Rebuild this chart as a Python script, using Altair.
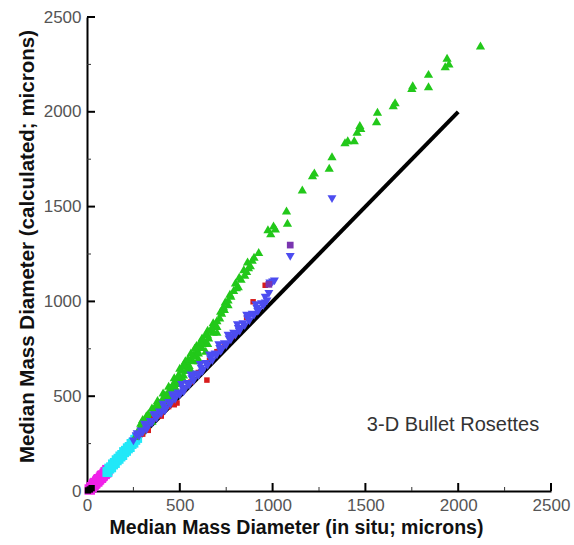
import altair as alt
import pandas as pd

# Median mass diameter, in situ (x) vs calculated (y), microns
green_x = [260, 275, 285, 295, 300, 310, 315, 325, 330, 340, 345, 355, 360, 370, 375, 385, 390, 400,
           405, 415, 420, 430, 435, 445, 450, 460, 465, 475, 480, 490, 495, 505, 510, 520, 525, 535,
           540, 550, 560, 570, 575, 585, 595, 600, 610, 620, 630, 640, 650, 655, 665, 680, 690, 700,
           715, 725, 740, 745, 760, 775, 790, 800, 815, 830, 845, 860, 865, 880, 900, 925, 975, 990,
           1005, 1015, 1075, 1080, 1160, 1215, 1225, 1305, 1320, 1390, 1405, 1440, 1455, 1470, 1475,
           1560, 1565, 1650, 1660, 1750, 1755, 1840, 1840, 1930, 1940, 1950, 2120,
           300, 320, 350, 380, 410, 440, 470, 500, 530, 560, 590, 620, 650, 680, 720, 760, 820, 870,
           350, 400, 450, 500, 550, 600, 650, 700,
           290, 330, 370, 420, 460, 490, 520, 545, 580, 610, 640, 670, 700, 735, 770, 805, 850, 890,
           280, 320, 360, 400, 440, 480, 520, 560, 600, 640]
green_y = [290, 310, 330, 320, 350, 345, 370, 365, 390, 385, 400, 410, 425, 420, 445, 440, 465, 460,
           485, 475, 500, 495, 520, 510, 545, 530, 565, 550, 590, 575, 615, 600, 640, 615, 660, 640,
           680, 665, 700, 690, 720, 715, 745, 730, 770, 760, 795, 785, 825, 810, 850, 840, 880, 870,
           915, 940, 960, 1000, 985, 1030, 1060, 1100, 1080, 1120, 1170, 1160, 1210, 1190, 1235, 1260,
           1380, 1360, 1400, 1385, 1480, 1415, 1590, 1665, 1680, 1705, 1765, 1840, 1850, 1850, 1895,
           1930, 1915, 1950, 2000, 2035, 2050, 2125, 2140, 2135, 2200, 2240, 2285, 2255, 2350,
           380, 400, 440, 480, 520, 555, 600, 650, 690, 730, 770, 810, 850, 890, 950, 1010, 1130, 1180,
           370, 440, 500, 570, 640, 700, 780, 840,
           360, 410, 455, 510, 560, 610, 670, 700, 755, 790, 830, 860, 900, 975, 1040, 1075, 1140, 1220,
           330, 355, 400, 450, 490, 540, 590, 640, 690, 740]

blue_x = [250, 265, 280, 290, 300, 315, 325, 340, 350, 365, 375, 390, 400, 415, 425, 440, 450, 465,
          475, 490, 500, 515, 525, 540, 550, 565, 575, 590, 600, 615, 625, 640, 650, 665, 675, 690,
          700, 715, 725, 740, 750, 765, 775, 790, 800, 815, 825, 840, 850, 865, 875, 890, 900, 915,
          925, 940, 950, 960, 970, 980, 985, 1000, 1010, 1095, 1320,
          310, 360, 410, 460, 510, 560, 610, 660, 710, 760, 810, 860, 910,
          270, 320, 370, 420, 470, 520, 570, 620, 670, 720, 770, 820, 870, 920, 960]
blue_y = [262, 290, 285, 315, 305, 340, 330, 365, 355, 390, 380, 415, 405, 440, 430, 465, 455, 490,
          480, 515, 505, 540, 530, 565, 555, 590, 580, 615, 605, 645, 635, 670, 660, 695, 685, 720,
          715, 750, 740, 775, 765, 800, 795, 830, 820, 855, 845, 880, 870, 905, 895, 930, 925, 960,
          950, 985, 975, 1020, 1000, 1040, 1095, 1100, 1105, 1235, 1540,
          350, 400, 455, 505, 560, 610, 665, 715, 770, 820, 875, 925, 980,
          300, 320, 400, 420, 505, 520, 600, 625, 710, 735, 810, 840, 920, 945, 990]

red_x = [300, 330, 360, 400, 440, 470, 485, 520, 560, 600, 646, 660, 700, 740, 780, 820, 860, 895, 960]
red_y = [300, 320, 380, 395, 445, 455, 464, 535, 575, 625, 585, 690, 735, 770, 815, 860, 915, 998, 1085]

purple_x = [980, 1095]
purple_y = [1090, 1297]

cyan_x = [110, 120, 130, 140, 150, 160, 170, 180, 190, 200, 210, 220, 230, 240, 250, 260, 270]
cyan_y = [100, 118, 125, 140, 148, 162, 170, 182, 190, 205, 212, 225, 232, 248, 255, 270, 280]

magenta_x = [15, 25, 35, 45, 55, 65, 75, 85, 95, 105, 110, 40, 60, 80, 100]
magenta_y = [8, 20, 30, 42, 50, 62, 70, 82, 90, 100, 110, 38, 58, 78, 98]

black_x = [5, 15, 25]
black_y = [3, 8, 15]

# 1:1 reference line
line_x = [0, 2000]
line_y = [0, 2000]

x_major = [0, 500, 1000, 1500, 2000, 2500]
x_minor = [250, 750, 1250, 1750, 2250]
y_major = [0, 500, 1000, 1500, 2000, 2500]
y_minor = [250, 750, 1250, 1750, 2250]

label_text = "3-D Bullet Rosettes"
label_x = [1972]
label_y = [348]

W, H = 464, 474
FONT = "Liberation Sans"

xs = alt.Scale(domain=[0, 2500], nice=False, zero=False)
ys = alt.Scale(domain=[0, 2500], nice=False, zero=False)

x_axis = alt.Axis(values=x_major, format="d", ticks=False, domainColor="black", domainWidth=2,
                  labelFont=FONT, labelFontSize=17, labelColor="#555555", labelPadding=6,
                  title="Median Mass Diameter (in situ; microns)", titleFont=FONT,
                  titleFontSize=19.5, titleFontWeight="bold", titleColor="#111111",
                  titlePadding=5, titleX=209, grid=False, labelFlush=False)
y_axis = alt.Axis(values=y_major, format="d", ticks=False, domainColor="black", domainWidth=2,
                  labelFont=FONT, labelFontSize=17, labelColor="#555555", labelPadding=6,
                  title="Median Mass Diameter (calculated; microns)", titleFont=FONT,
                  titleFontSize=20.5, titleFontWeight="bold", titleColor="#111111",
                  titlePadding=6, titleY=229, grid=False, labelFlush=False)


def X(field):
    return alt.X(field, scale=xs, axis=x_axis)


def Y(field):
    return alt.Y(field, scale=ys, axis=y_axis)


def series(xv, yv):
    return pd.DataFrame({"x": xv, "y": yv})


line = alt.Chart(series(line_x, line_y)).mark_line(color="black", strokeWidth=4).encode(
    x=X("x:Q"), y=Y("y:Q"))


def points(xv, yv, shape, color, size):
    return alt.Chart(series(xv, yv)).mark_point(
        shape=shape, filled=True, color=color, size=size, opacity=1
    ).encode(x=X("x:Q"), y=Y("y:Q"))


green = points(green_x, green_y, "triangle-up", "#22c81a", 85)
blue = points(blue_x, blue_y, "triangle-down", "#4c4cf0", 80)
red = points(red_x, red_y, "square", "#d81c1c", 30)
purple = points(purple_x, purple_y, "square", "#7a35b0", 45)
cyan = points(cyan_x, cyan_y, "square", "#22e8f8", 100)
magenta = points(magenta_x, magenta_y, "square", "#f020e8", 110)
black = points(black_x, black_y, "square", "black", 40)

label = alt.Chart(pd.DataFrame({"x": label_x, "y": label_y, "t": [label_text]})).mark_text(
    font=FONT, fontSize=20, color="#333333", align="center", baseline="middle"
).encode(x=X("x:Q"), y=Y("y:Q"), text="t:N")

# inward-pointing tick marks
xt_major = alt.Chart(pd.DataFrame({"v": x_major[1:]})).mark_rule(color="black", strokeWidth=2).encode(
    x=X("v:Q"), y=alt.value(H), y2=alt.value(H - 8))
xt_minor = alt.Chart(pd.DataFrame({"v": x_minor})).mark_rule(color="#333333", strokeWidth=1).encode(
    x=X("v:Q"), y=alt.value(H), y2=alt.value(H - 4))
yt_major = alt.Chart(pd.DataFrame({"v": y_major[1:]})).mark_rule(color="black", strokeWidth=2).encode(
    y=Y("v:Q"), x=alt.value(0), x2=alt.value(8))
yt_minor = alt.Chart(pd.DataFrame({"v": y_minor})).mark_rule(color="#333333", strokeWidth=1).encode(
    y=Y("v:Q"), x=alt.value(0), x2=alt.value(4))

chart = alt.layer(
    line, xt_major, xt_minor, yt_major, yt_minor,
    magenta, cyan, green, red, blue, purple, black, label
).properties(
    width=W, height=H,
    autosize=alt.AutoSizeParams(type="none"),
    padding={"left": 87, "top": 17, "right": 23, "bottom": 54},
    background="white",
).configure_view(stroke=None)

chart.save("out.html", embed_options={"renderer": "svg", "actions": False})
